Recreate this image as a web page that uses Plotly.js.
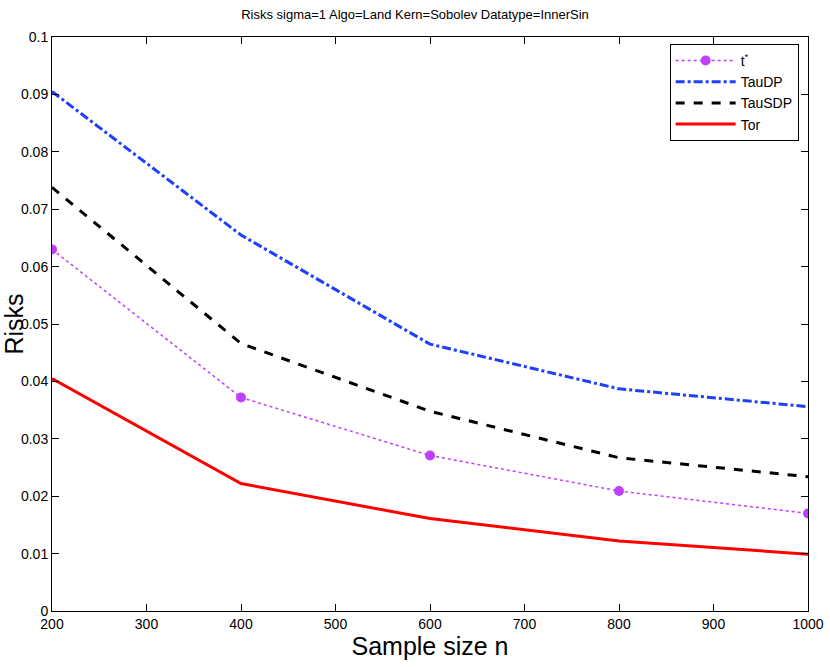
<!DOCTYPE html>
<html>
<head>
<meta charset="utf-8">
<script src="https://cdn.plot.ly/plotly-3.0.1.min.js"></script>
<style>
  body { margin: 0; background: #fff; }
  #graph { width: 830px; height: 667px; }
</style>
</head>
<body>
<div id="graph"></div>
<script>
// sample sizes and risk curves
var sampleSize = [200, 400, 600, 800, 1000];
var tStar  = [0.0630, 0.0372, 0.0271, 0.0209, 0.0170];
var tauDP  = [0.0905, 0.0655, 0.0465, 0.0387, 0.0356];
var tauSDP = [0.0738, 0.0466, 0.0348, 0.0267, 0.0234];
var tor    = [0.0405, 0.0222, 0.0161, 0.0122, 0.0099];

var data = [
  {x: sampleSize, y: tStar, name: 't<sup>*</sup>', mode: 'lines+markers',
   line: {color: '#bf3fff', width: 1.5, dash: 'dot'},
   marker: {color: '#bf3fff', size: 10}},
  {x: sampleSize, y: tauDP, name: 'TauDP', mode: 'lines',
   line: {color: '#1f3fff', width: 3, dash: 'dashdot'}},
  {x: sampleSize, y: tauSDP, name: 'TauSDP', mode: 'lines',
   line: {color: '#000000', width: 3, dash: 'dash'}},
  {x: sampleSize, y: tor, name: 'Tor', mode: 'lines',
   line: {color: '#ff0000', width: 3}}
];

var axisStyle = {
  showgrid: false, zeroline: false, showline: true, mirror: 'allticks',
  linecolor: '#000', linewidth: 1, ticks: 'inside', ticklen: 7,
  tickcolor: '#000', tickfont: {size: 14, color: '#000'}
};

var layout = {
  width: 830, height: 667,
  margin: {l: 52, r: 22, t: 37, b: 56},
  font: {family: 'Liberation Sans, Arial, sans-serif', color: '#000'},
  paper_bgcolor: '#fff', plot_bgcolor: '#fff',
  title: {text: 'Risks sigma=1 Algo=Land Kern=Sobolev Datatype=InnerSin',
          font: {size: 13}, x: 0.5, xanchor: 'center', y: 0.985, yanchor: 'top'},
  xaxis: Object.assign({}, axisStyle, {
    range: [200, 1000], dtick: 100, tick0: 200,
    title: {text: 'Sample size n', font: {size: 25}, standoff: 6}
  }),
  yaxis: Object.assign({}, axisStyle, {
    range: [0, 0.1], dtick: 0.01, tick0: 0,
    title: {text: 'Risks', font: {size: 25}, standoff: 6}
  }),
  showlegend: true,
  legend: {x: 0.817, y: 0.988, xanchor: 'left', yanchor: 'top',
           bordercolor: '#000', borderwidth: 1, bgcolor: '#fff',
           font: {size: 14}, tracegroupgap: 0, itemwidth: 60}
};

Plotly.newPlot('graph', data, layout, {displayModeBar: false});
</script>
</body>
</html>
